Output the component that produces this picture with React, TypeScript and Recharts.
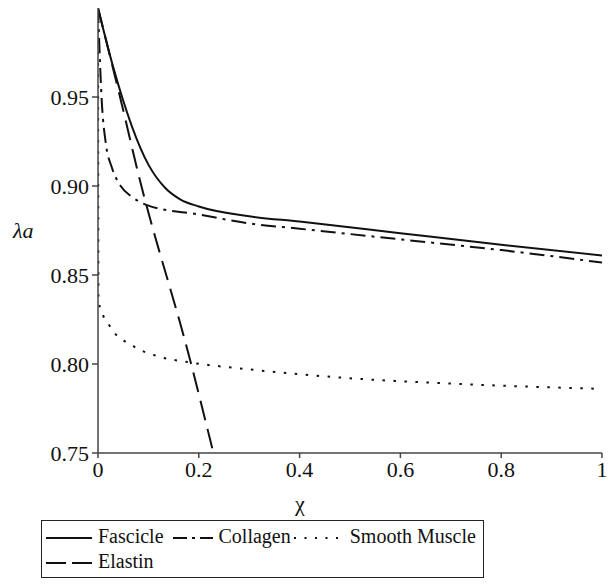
import { LineChart, Line, XAxis, YAxis, Legend } from 'recharts'

// chi values and lambda_a per tissue
const fascicle = [
  { x: 0, y: 1.0 },
  { x: 0.03, y: 0.967 },
  { x: 0.1, y: 0.912 },
  { x: 0.133, y: 0.899 },
  { x: 0.163, y: 0.8925 },
  { x: 0.2, y: 0.8885 },
  { x: 0.3, y: 0.883 },
  { x: 0.4, y: 0.88 },
  { x: 0.6, y: 0.8735 },
  { x: 0.8, y: 0.867 },
  { x: 1.0, y: 0.861 },
]

const collagen = [
  { x: 0, y: 1.0 },
  { x: 0.008, y: 0.945 },
  { x: 0.015, y: 0.925 },
  { x: 0.028, y: 0.91 },
  { x: 0.045, y: 0.9 },
  { x: 0.067, y: 0.894 },
  { x: 0.1, y: 0.889 },
  { x: 0.2, y: 0.884 },
  { x: 0.3, y: 0.879 },
  { x: 0.4, y: 0.876 },
  { x: 0.6, y: 0.87 },
  { x: 0.8, y: 0.864 },
  { x: 1.0, y: 0.857 },
]

const smoothMuscle = [
  { x: 0, y: 1.0 },
  { x: 0.001, y: 0.835 },
  { x: 0.024, y: 0.821 },
  { x: 0.07, y: 0.81 },
  { x: 0.123, y: 0.804 },
  { x: 0.18, y: 0.801 },
  { x: 0.3, y: 0.797 },
  { x: 0.5, y: 0.792 },
  { x: 0.7, y: 0.789 },
  { x: 1.0, y: 0.786 },
]

const elastin = [
  { x: 0, y: 1.0 },
  { x: 0.048, y: 0.945 },
  { x: 0.079, y: 0.908 },
  { x: 0.183, y: 0.802 },
  { x: 0.229, y: 0.75 },
]

const xTicks = [0, 0.2, 0.4, 0.6, 0.8, 1]
const yTicks = [0.75, 0.8, 0.85, 0.9, 0.95]

const FONT = 'Liberation Serif'
const INK = '#111'

const series = [
  { name: 'Fascicle', data: fascicle, dash: undefined },
  { name: 'Collagen', data: collagen, dash: '15 6 3 6' },
  { name: 'Smooth Muscle', data: smoothMuscle, dash: '2.5 8.5' },
  { name: 'Elastin', data: elastin, dash: '20 9' },
]

const legendDash: Record<string, string | undefined> = {
  Fascicle: undefined,
  Collagen: '14 5 3 5',
  'Smooth Muscle': '2 8.5',
  Elastin: '20 6',
}

function Sample({ dash, width }: { dash?: string; width: number }) {
  return (
    <svg width={width} height={10} style={{ verticalAlign: 'middle', marginRight: 6 }}>
      <line x1={0} y1={5} x2={width} y2={5} stroke={INK} strokeWidth={2} strokeDasharray={dash} />
    </svg>
  )
}

function LegendBox() {
  const item = (name: string, w: number, gap: number) => (
    <span style={{ marginRight: gap, whiteSpace: 'nowrap' }}>
      <Sample dash={legendDash[name]} width={w} />
      {name}
    </span>
  )
  return (
    <div
      style={{
        border: '1.5px solid #222',
        width: 443,
        height: 58,
        boxSizing: 'border-box',
        padding: '3px 4px',
        fontFamily: FONT,
        fontSize: 20,
        lineHeight: '25px',
        color: INK,
        textAlign: 'left',
      }}
    >
      <div>
        {item('Fascicle', 46, 9)}
        {item('Collagen', 40, 3)}
        {item('Smooth Muscle', 50, 0)}
      </div>
      <div>{item('Elastin', 46, 0)}</div>
    </div>
  )
}

export default function App() {
  return (
    <div style={{ position: 'absolute', left: 0, top: 0, background: '#fff', fontFamily: FONT }}>
      <LineChart width={610} height={584} margin={{ top: 8, right: 8, left: 0, bottom: 0 }}>
        <XAxis
          type="number"
          dataKey="x"
          domain={[0, 1]}
          ticks={xTicks}
          tickFormatter={(v: number) => String(v)}
          height={131}
          stroke="#444"
          strokeWidth={1.5}
          tickSize={5}
          tickMargin={3}
          tick={{ fill: INK, fontSize: 22, fontFamily: FONT }}
          allowDataOverflow
          label={{ value: 'χ', position: 'insideTop', offset: 42, dx: -50, fill: INK, fontSize: 22, fontFamily: FONT }}
        />
        <YAxis
          type="number"
          domain={[0.75, 1.0]}
          ticks={yTicks}
          tickFormatter={(v: number) => v.toFixed(2)}
          width={98}
          stroke="#444"
          strokeWidth={1.5}
          tickSize={6}
          tickMargin={3}
          tick={{ fill: INK, fontSize: 22, fontFamily: FONT }}
          allowDataOverflow
          label={{ value: 'λa', position: 'insideLeft', offset: 13, fill: INK, fontSize: 22, fontStyle: 'italic', fontFamily: FONT }}
        />
        <Legend
          layout="vertical"
          align="center"
          verticalAlign="middle"
          wrapperStyle={{ left: 41, top: 520, width: 445 }}
          content={() => <LegendBox />}
        />
        {series.map((s) => (
          <Line
            key={s.name}
            name={s.name}
            data={s.data}
            dataKey="y"
            type="monotone"
            stroke={INK}
            strokeWidth={2}
            strokeDasharray={s.dash}
            dot={false}
            activeDot={false}
            isAnimationActive={false}
          />
        ))}
      </LineChart>
    </div>
  )
}
